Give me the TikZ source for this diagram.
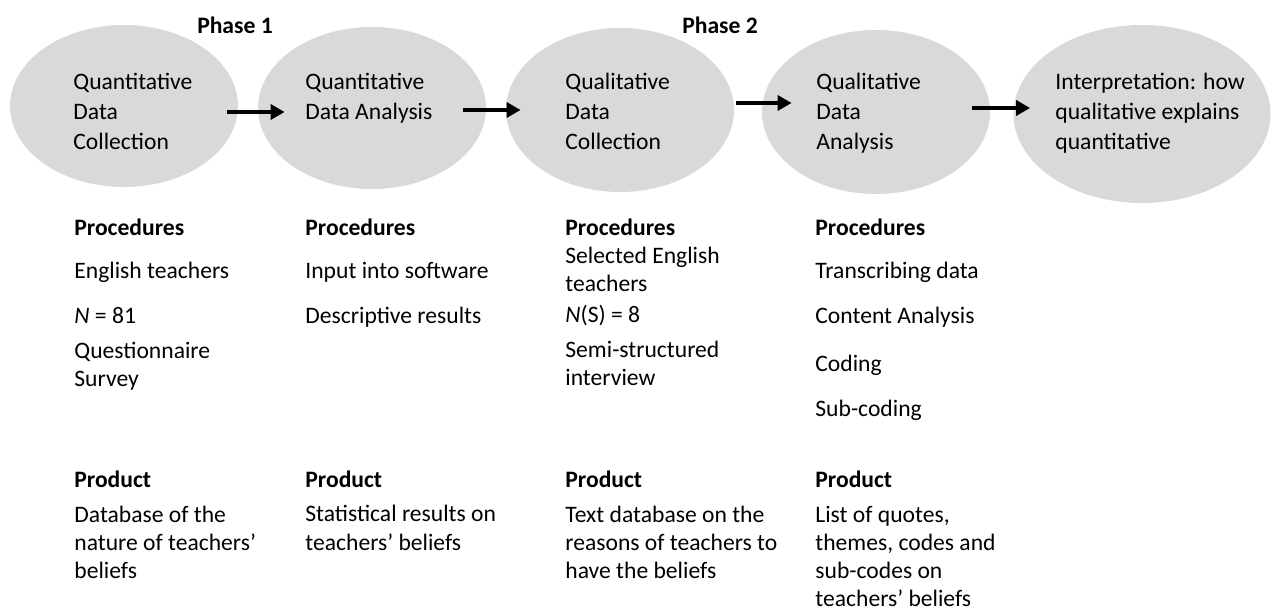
\documentclass[tikz,border=0pt]{standalone}
\usepackage{fontspec}
\setmainfont{Carlito}
\usetikzlibrary{shapes.geometric,arrows.meta}
\definecolor{ovalgray}{HTML}{D9D9D9}
\begin{document}
\begin{tikzpicture}[x=0.5pt,y=-0.5pt]
    \tikzstyle{oval}=[ellipse, fill=ovalgray, inner sep=0pt, minimum width=114pt, minimum height=81pt]
    \tikzstyle{intxt}=[anchor=base west, align=left, inner sep=0pt, font=\fontsize{11.8}{15}\selectfont]
    \tikzstyle{txt}=[anchor=base west, align=left, inner sep=0pt, font=\fontsize{11.8}{14}\selectfont]
    \tikzstyle{arr}=[-{Triangle[length=7pt,width=7.5pt]}, line width=2.3pt]

    \useasboundingbox (0,0) rectangle (1272,613);

    % the five stages
    \node[oval] (qdc) at (124,106) {};
    \node[oval] (qda) at (372,108) {};
    \node[oval, minimum height=82pt] (qlc) at (620,110) {};
    \node[oval, minimum height=82pt] (qla) at (876,112) {};
    \node[oval, minimum width=128.5pt, minimum height=89pt] (interp) at (1142,114) {};

    % base is the last line, so y is the baseline of that line
    \node[intxt] (qdc-t) at (73,150) {Quantitative\\ Data\\ Collection};
    \node[intxt] (qda-t) at (305,120) {Quantitative\\ Data Analysis};
    \node[intxt] (qlc-t) at (565,150) {Qualitative\\ Data\\ Collection};
    \node[intxt] (qla-t) at (816,150) {Qualitative\\ Data\\ Analysis};
    \node[intxt] (interp-t) at (1055,150) {Interpretation: how\\ qualitative explains\\ quantitative};

    \node[font=\fontsize{11.8}{14}\selectfont\bfseries] (ph1) at (235,25) {Phase 1};
    \node[font=\fontsize{11.8}{14}\selectfont\bfseries] (ph2) at (720,25) {Phase 2};

    \draw[arr] ([xshift=-5.5pt,yshift=-3pt]qdc.east) -- ([xshift=13.5pt,yshift=-2pt]qda.west);
    \draw[arr] ([xshift=-11.5pt,yshift=-1pt]qda.east) -- ([xshift=7.5pt]qlc.west);
    \draw[arr] ([xshift=1pt,yshift=3.5pt]qlc.east) -- ([xshift=15pt,yshift=4.5pt]qla.west);
    \draw[arr] ([xshift=-9pt,yshift=2pt]qla.east) -- ([xshift=8.5pt,yshift=3pt]interp.west);

    % procedures
    \node[txt] (proc1) at (74,387) {\textbf{Procedures}\\[7.5pt] English teachers\\[8.5pt] \textit{N} = 81\\[3.5pt] Questionnaire\\ Survey};
    \node[txt] (proc2) at (305,324) {\textbf{Procedures}\\[7.5pt] Input into software\\[8.5pt] Descriptive results};
    \node[txt] (proc3) at (565,386) {\textbf{Procedures}\\ Selected English\\ teachers\\[1.5pt] \textit{N}(S) = 8\\[3.5pt] Semi-structured\\ interview};
    \node[txt] (proc4) at (815,417) {\textbf{Procedures}\\[7.5pt] Transcribing data\\[8.5pt] Content Analysis\\[10pt] Coding\\[8.5pt] Sub-coding};

    % products
    \node[txt] (prod1) at (74,578) {\textbf{Product}\\[3.5pt] Database of the\\ nature of teachers’\\ beliefs};
    \node[txt] (prod2) at (305,550) {\textbf{Product}\\[3.5pt] Statistical results on\\ teachers’ beliefs};
    \node[txt] (prod3) at (565,578) {\textbf{Product}\\[3.5pt] Text database on the\\ reasons of teachers to\\ have the beliefs};
    \node[txt] (prod4) at (815,606) {\textbf{Product}\\[3.5pt] List of quotes,\\ themes, codes and\\ sub-codes on\\ teachers’ beliefs};
\end{tikzpicture}
\end{document}
